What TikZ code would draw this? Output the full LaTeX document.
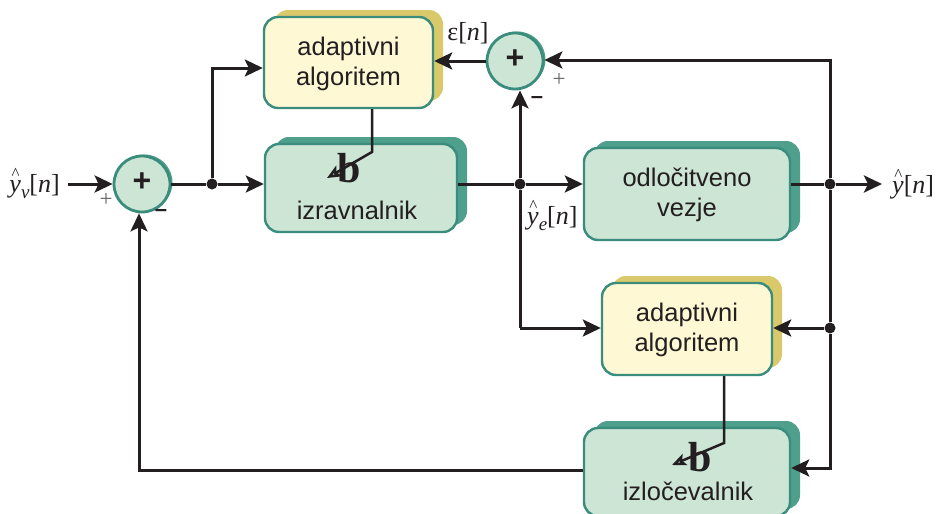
\documentclass[tikz,border=0pt]{standalone}
\usepackage{fontspec}
\setmainfont{Liberation Sans}
\newfontfamily\seriffont{Liberation Serif}
\usetikzlibrary{arrows.meta,shadows,calc}
\definecolor{gfill}{HTML}{CCE5D5}
\definecolor{gborder}{HTML}{3A8C7C}
\definecolor{gshadow}{HTML}{4E9F8B}
\definecolor{yfill}{HTML}{FFF8D4}
\definecolor{yshadow}{HTML}{D9C96B}
\definecolor{ink}{HTML}{231F20}
\newcommand\yhatsym{\mbox{\textit{y}\llap{\raisebox{13pt}{\fontsize{17}{17}\selectfont\^{}}\kern1.5pt}}}
\newcommand\subsc[1]{\raisebox{-6pt}{\fontsize{19}{19}\selectfont\textit{#1}}}
\tikzset{
  gbox/.style={draw=gborder, line width=2.4pt, fill=gfill, rounded corners=14pt, inner sep=0pt,
    copy shadow={shadow xshift=10pt, shadow yshift=7pt, fill=gshadow, draw=none}},
  ybox/.style={draw=gborder, line width=2.4pt, fill=yfill, rounded corners=14pt, inner sep=0pt,
    copy shadow={shadow xshift=10pt, shadow yshift=7pt, fill=yshadow, draw=none}},
  sumc/.style={circle, draw=gborder, line width=2.8pt, fill=gfill, minimum size=56pt, inner sep=0pt,
    copy shadow={shadow xshift=2.5pt, shadow yshift=1.5pt, fill=gshadow, draw=none}},
  conn/.style={draw=ink, line width=3pt},
  arr/.style={conn, -{Stealth[length=18pt,width=17pt,inset=4pt]}},
  thinarr/.style={draw=ink, line width=2.5pt, -{Stealth[length=14pt,width=12pt,inset=3pt,open,fill=none]}},
  dot/.style={circle, fill=ink, minimum size=11pt, inner sep=0pt},
  lbl/.style={font=\fontsize{25.5}{30}\selectfont, text=ink, align=center},
  mlbl/.style={font=\fontsize{26}{30}\selectfont\seriffont, text=ink, inner sep=1pt},
  sgn/.style={font=\fontsize{23}{24}\selectfont\seriffont, text=black!60},
  minus/.style={font=\fontsize{22}{24}\selectfont\bfseries, text=ink},
  bb/.style={font=\fontsize{42}{42}\selectfont\seriffont\bfseries, text=ink},
}
\begin{document}
\begin{tikzpicture}[x=1pt,y=-1pt]
\useasboundingbox (0,0) rectangle (938,514);
% boxes
\node[ybox, minimum width=169pt, minimum height=91pt] (ad1) at (348.5,62.5) {};
\node[lbl] at (348.5,64) {adaptivni\\algoritem};
\node[gbox, minimum width=192pt, minimum height=88pt] (izr) at (361,188) {};
\node[gbox, minimum width=206pt, minimum height=92pt] (odl) at (687,194) {};
\node[lbl] at (687,195) {odločitveno\\vezje};
\node[ybox, minimum width=170pt, minimum height=92pt] (ad2) at (687,329) {};
\node[lbl] at (687,330) {adaptivni\\algoritem};
\node[gbox, minimum width=206pt, minimum height=88pt] (izl) at (687,472) {};
% sums
\node[sumc] (s1) at (142,184) {};
\node[font=\fontsize{32}{32}\selectfont\bfseries, text=ink] at (142,182) {+};
\node[sumc] (s2) at (515,61) {};
\node[font=\fontsize{32}{32}\selectfont\bfseries, text=ink] at (515,59) {+};
% coordinates
\node[dot] (d1) at (212,184) {};
\node[dot] (d2) at (520,184) {};
\node[dot] (d3) at (830,184) {};
\node[dot] (d4) at (830,328) {};
\coordinate (in) at (68,184);
\coordinate (out) at (882,184);
\coordinate (c1) at (212,68);
\coordinate (c2) at (830,60);
\coordinate (c3) at (830,468);
\coordinate (c4) at (520,328);
\coordinate (c5) at (139,470);
% labels
\node[mlbl, anchor=east] (yv) at (61,184) {\yhatsym\subsc{v}[\textit{n}]};
\node[mlbl, anchor=west] (yo) at (891,184) {\yhatsym[\textit{n}]};
\node[mlbl, anchor=west] (ye) at (526,216) {\yhatsym\subsc{e}[\textit{n}]};
\node[mlbl] (eps) at (468,33) {ε[\textit{n}]};
\node[sgn] at (106,200) {+};
\node[minus] at (161,213) {–};
\node[sgn] at (559,80) {+};
\node[minus] at (537,100) {–};
% b marks
\node[bb] at (349,168) {b};
\node[lbl] at (357,210) {izravnalnik};
\node[bb] at (700,457) {b};
\node[lbl] at (688,491) {izločevalnik};
% connectors
\draw[arr] (in) -- (s1);
\draw[conn] (s1) -- (d1);
\draw[arr] (d1) -- (izr.west |- d1);
\draw[arr] (d1) -- (c1) -- (ad1.west |- c1);
\draw[conn] (izr.east |- d2) -- (d2);
\draw[arr] (d2) -- (odl.west |- d2);
\draw[arr] (d2) -- (d2 |- s2.south);
\draw[conn] (d2) -- (c4);
\draw[arr] (c4) -- (ad2.west |- c4);
\draw[arr] (s2) -- (ad1.east |- s2);
\draw[conn] (odl.east |- d3) -- (d3);
\draw[arr] (d3) -- (out);
\draw[arr] (d3) -- (c2) -- (s2.east |- c2);
\draw[conn] (d3) -- (d4);
\draw[arr] (d4) -- (ad2.east |- d4);
\draw[arr] (d4) -- (c3) -- (izl.east |- c3);
\draw[arr] (izl.west |- c5) -- (c5) -- (c5 |- s1.south);
\draw[thinarr] (ad1.south -| 372,0) -- (372,152) -- (327,178);
\draw[thinarr] (ad2.south -| 724,0) -- (724,443) -- (672,465);
\end{tikzpicture}
\end{document}
